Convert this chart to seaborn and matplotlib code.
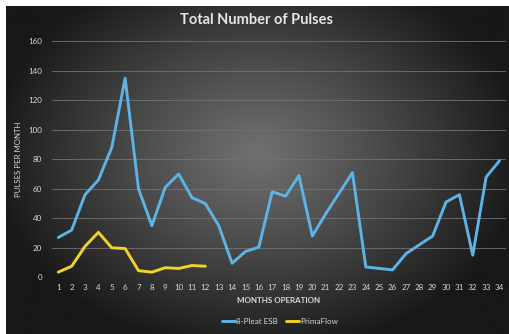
import numpy as np
import pandas as pd
import matplotlib
matplotlib.use("Agg")
import matplotlib.pyplot as plt
import seaborn as sns

# Monthly pulse counts per filter type
months = list(range(1, 35))
esb_pulses = [27, 32, 56, 66, 88, 135, 60, 35, 61, 70, 54, 50, 35, 9.5, 17.5,
              20.5, 58, 55, 69, 28, 43, 57, 71, 7, 6, 5, 16, 22, 28, 51, 56,
              15, 68, 79]
prima_pulses = [3.5, 7.5, 21, 30.5, 20, 19.5, 4.5, 3.5, 6.5, 6, 8, 7.5]
series_names = ["8-Pleat ESB", "PrimaFlow"]
y_ticks = [0, 20, 40, 60, 80, 100, 120, 140, 160]

df = pd.concat([
    pd.DataFrame({"month": months, "pulses": esb_pulses, "series": series_names[0]}),
    pd.DataFrame({"month": months[:len(prima_pulses)], "pulses": prima_pulses,
                  "series": series_names[1]}),
])

sns.set_theme(style="dark")
plt.rcParams["font.family"] = ["Lato", "DejaVu Sans"]

W, H = 509, 334
fig = plt.figure(figsize=(W / 100, H / 100), dpi=100, facecolor="white")

# radial-gradient backdrop
bg = fig.add_axes([6 / W, 0, 1 - 6 / W, 1 - 6 / H])
gx, gy = np.meshgrid(np.linspace(-1, 1, 500), np.linspace(-1, 1, 330))
r = np.sqrt(((gx - 0.0) / 1.0) ** 2 + ((gy + 0.1) / 1.15) ** 2)
shade = np.clip(112 - 82 * r ** 1.1, 24, 255) / 255.0
bg.imshow(np.dstack([shade, shade, shade]), aspect="auto", extent=[0, 1, 0, 1],
          interpolation="bicubic")
bg.set_axis_off()
bg.set_zorder(-2)

ax = fig.add_axes([51.6 / W, (H - 277.3) / H, (506.2 - 51.6) / W, (277.3 - 41.3) / H])
ax.set_facecolor("none")

palette = {series_names[0]: "#5db3e6", series_names[1]: "#f2d12a"}
sns.lineplot(data=df, x="month", y="pulses", hue="series", palette=palette,
             linewidth=2.1, ax=ax, legend=False)

ax.set_xlim(0.5, 34.5)
ax.set_ylim(0, 160)
ax.set_yticks(y_ticks)
ax.set_xticks(months)
ax.tick_params(axis="both", length=0, colors="#d8d8d8", labelsize=5.8, pad=7)
ax.tick_params(axis="x", pad=5)
for s in ax.spines.values():
    s.set_visible(False)
ax.grid(axis="y", color="#727272", linewidth=0.6)
ax.grid(axis="x", visible=False)
ax.set_xlabel("MONTHS OPERATION", color="#d8d8d8", fontsize=5.8,
              fontweight="bold", labelpad=4)
ax.set_ylabel("PULSES PER MONTH", color="#d8d8d8", fontsize=5.6, labelpad=4)

fig.text(257 / W, 1 - 20 / H, "Total Number of Pulses", ha="center", va="center",
         color="#e6e6e6", fontsize=10.5, fontweight="bold")

handles = [plt.Line2D([], [], color=palette[n], linewidth=2.1) for n in series_names]
fig.legend(handles, series_names, loc="center", bbox_to_anchor=(280 / W, 1 - 321 / H),
           ncol=2, frameon=False, fontsize=5.8, labelcolor="#d8d8d8",
           handlelength=1.6, handletextpad=0.15, columnspacing=1.0)

fig.savefig("out.png", dpi=100, facecolor="white")
